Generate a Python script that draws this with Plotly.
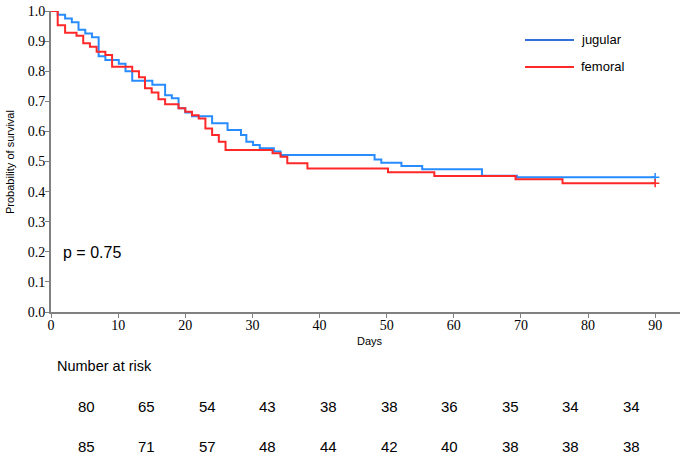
import plotly.graph_objects as go

# ---- data ----
jugular_days = [0, 1.0, 2.1, 3.1, 4.1, 5.1, 6.1, 7.1, 8.1, 10.1, 11.1, 12.1, 15.1, 17, 18, 19, 20, 21,
                24, 26.3, 28.3, 29.1, 30.1, 31.1, 33.2, 34.2, 48.2, 49.2, 52.2, 55.3, 64.2, 69.4, 90]
jugular_surv = [1.0, 0.9875, 0.975, 0.9625, 0.9375, 0.925, 0.9125, 0.85, 0.8375, 0.825, 0.8, 0.768, 0.755,
                0.72, 0.71, 0.677, 0.663, 0.65, 0.627, 0.605, 0.588, 0.566, 0.555, 0.544, 0.533, 0.522,
                0.507, 0.496, 0.485, 0.474, 0.453, 0.448, 0.448]

femoral_days = [0, 1.0, 2.1, 3.8, 4.8, 5.8, 6.8, 8.1, 9.1, 12.1, 13.1, 14, 15, 16, 17, 19, 20, 21, 22,
                23, 24, 25, 26, 33, 34.2, 35.2, 38.2, 50.2, 57.1, 69.2, 76.2, 90]
femoral_surv = [1.0, 0.953, 0.928, 0.918, 0.893, 0.881, 0.865, 0.854, 0.815, 0.8, 0.78, 0.743, 0.729,
                0.707, 0.69, 0.677, 0.665, 0.654, 0.643, 0.61, 0.588, 0.566, 0.538, 0.527, 0.516,
                0.494, 0.477, 0.464, 0.452, 0.441, 0.428, 0.428]

risk_jugular = [80, 65, 54, 43, 38, 38, 36, 35, 34, 34]
risk_femoral = [85, 71, 57, 48, 44, 42, 40, 38, 38, 38]

x_ticks = [0, 10, 20, 30, 40, 50, 60, 70, 80, 90]
y_ticks = [0.0, 0.1, 0.2, 0.3, 0.4, 0.5, 0.6, 0.7, 0.8, 0.9, 1.0]

BLUE = "rgb(40,140,255)"
RED = "rgb(255,40,40)"

fig = go.Figure()
for d, s, c in [(jugular_days, jugular_surv, BLUE), (femoral_days, femoral_surv, RED)]:
    fig.add_trace(go.Scatter(x=d, y=s, mode="lines", line=dict(color=c, width=2, shape="hv"),
                             showlegend=False, hoverinfo="skip"))
    fig.add_trace(go.Scatter(x=[d[-1]], y=[s[-1]], mode="markers",
                             marker=dict(symbol="cross-thin", size=6, line=dict(color=c, width=1.5)),
                             showlegend=False, hoverinfo="skip"))

W, H = 685, 456
PLOT_L, PLOT_R, PLOT_T, PLOT_B = 51, 680, 11, 312  # px
L, T, R, B = PLOT_L, PLOT_T, W - PLOT_R, H - PLOT_B
pw = PLOT_R - PLOT_L
ph = PLOT_B - PLOT_T

def px2x(p):
    return (p - PLOT_L) / pw

def py2y(p):
    return (PLOT_B - p) / ph

tickfont = dict(family="Liberation Serif", size=14, color="black")
fig.update_layout(
    width=W, height=H,
    margin=dict(l=L, r=R, t=T, b=B, autoexpand=False),
    paper_bgcolor="white", plot_bgcolor="white",
    xaxis=dict(range=[0, 93.7], tickvals=x_ticks, ticktext=[str(v) for v in x_ticks],
               showgrid=False, zeroline=False, showline=True, linecolor="#808080", linewidth=2,
               ticks="outside", ticklen=4, tickcolor="#808080", tickwidth=1, tickfont=tickfont,
               ticklabelstandoff=-5, ticklabeloverflow="allow"),
    yaxis=dict(range=[0, 1.0], tickvals=y_ticks, ticktext=[f"{v:.1f}" for v in y_ticks],
               showgrid=False, zeroline=False, showline=True, linecolor="#808080", linewidth=2,
               ticks="outside", ticklen=4, tickcolor="#808080", tickwidth=1, tickfont=tickfont,
               ticklabelstandoff=-3, ticklabeloverflow="allow"),
)

sans = "Liberation Sans"
ann = []

def add_text(px, py, text, size, xanchor="center", **kw):
    ann.append(dict(x=px2x(px), y=py2y(py), xref="paper", yref="paper", text=text,
                    xanchor=xanchor, yanchor="middle", showarrow=False,
                    font=dict(family=sans, size=size, color="black"), **kw))

add_text(10, 162, "Probability of survival", 11, textangle=-90)
add_text(370, 341, "Days", 11)
add_text(61, 253, "p = 0.75", 16, xanchor="left")
add_text(55, 366, "Number at risk", 14.5, xanchor="left")
for i, (a, b) in enumerate(zip(risk_jugular, risk_femoral)):
    add_text(86 + 60.6 * i, 406, str(a), 15)
    add_text(86 + 60.6 * i, 446, str(b), 15)

# legend
shapes = []
for name, c, yy in [("jugular", "rgb(50,110,220)", 40), ("femoral", RED, 67)]:
    shapes.append(dict(type="line", xref="paper", yref="paper", x0=px2x(525), x1=px2x(574),
                       y0=py2y(yy), y1=py2y(yy), line=dict(color=c, width=2)))
    add_text(579, yy - 1, name, 13, xanchor="left")

fig.update_layout(annotations=ann, shapes=shapes)
fig.write_html("out.html", config={"displayModeBar": False},
               post_script="document.body.style.margin='0px';document.body.style.overflow='hidden';")
